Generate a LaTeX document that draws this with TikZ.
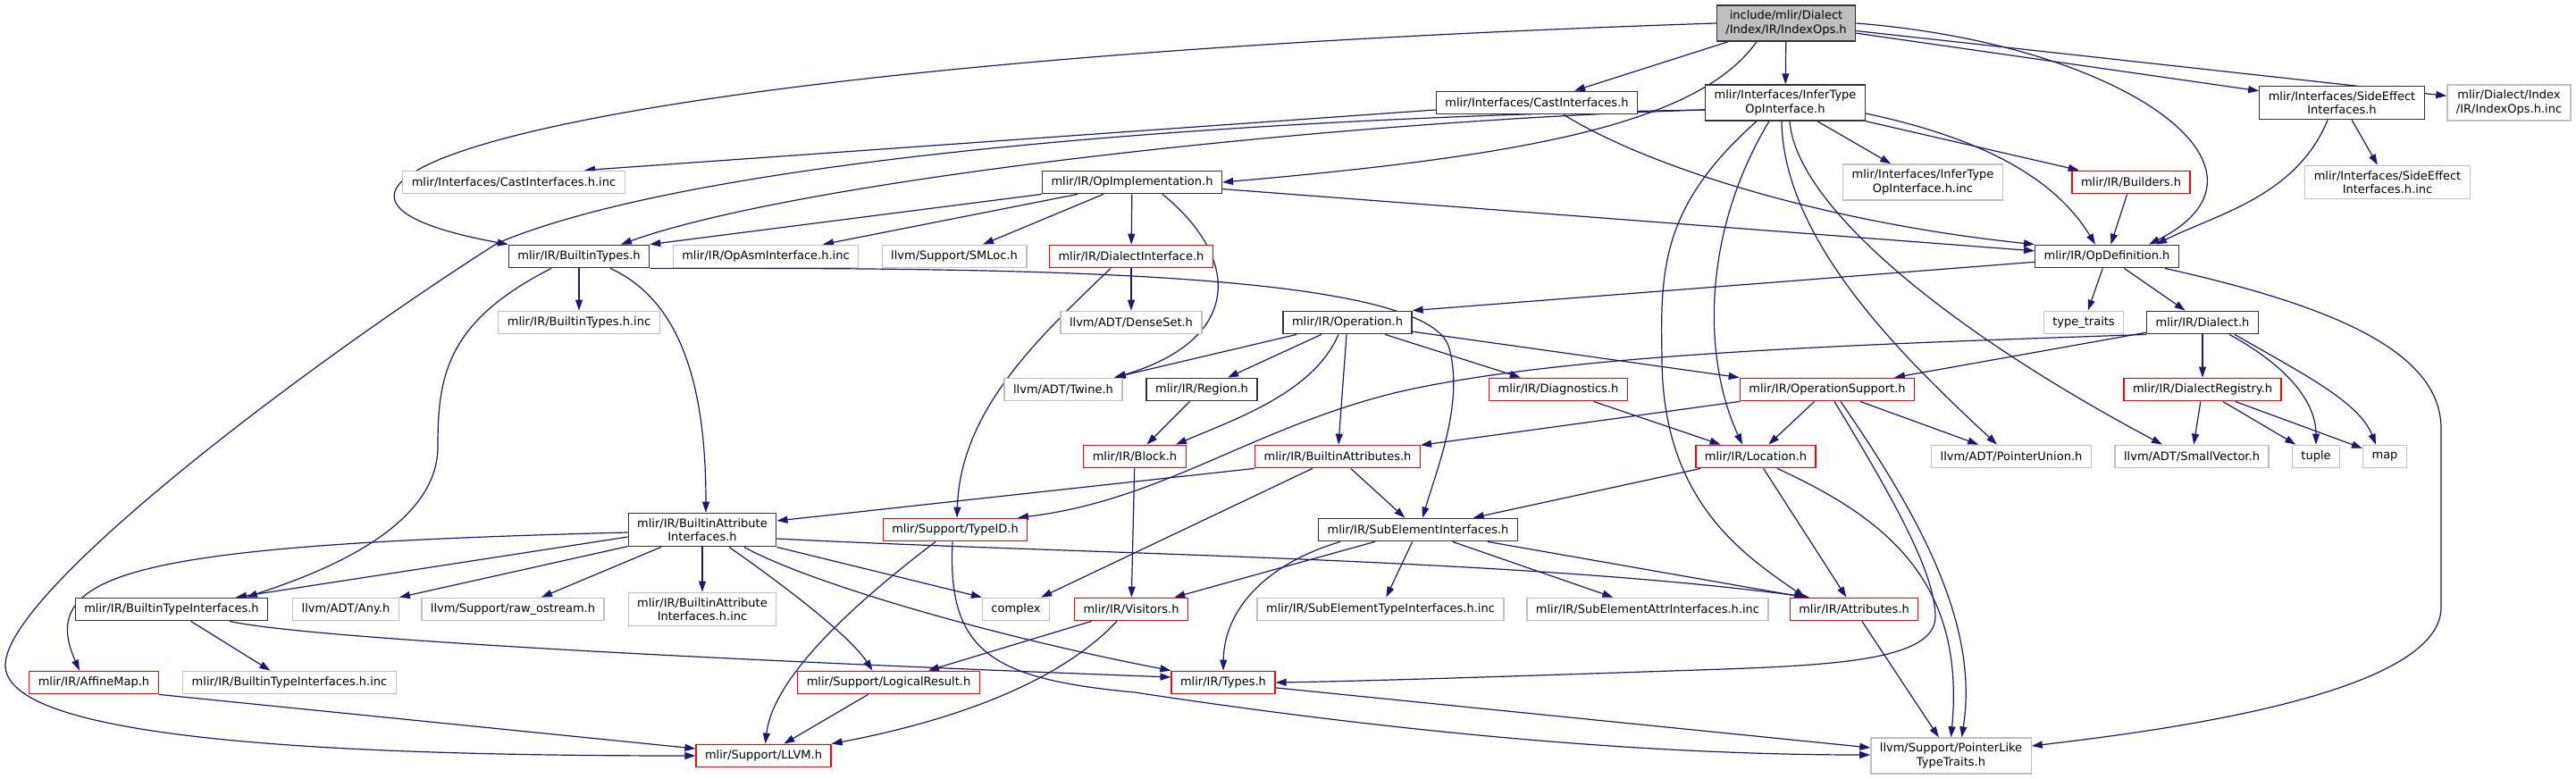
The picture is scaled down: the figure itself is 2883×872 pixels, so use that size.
\documentclass[tikz,border=0pt]{standalone}
\usepackage{fontspec}
\setmainfont{DejaVu Sans}
\usetikzlibrary{arrows.meta,backgrounds}
\definecolor{depblue}{RGB}{25,25,112}
\definecolor{boxgray}{RGB}{191,191,191}

\begin{document}
\begin{tikzpicture}[x=1pt, y=-1pt,
    every node/.style={font=\fontsize{13}{15.5}\selectfont, align=center, inner xsep=10pt, inner ysep=6pt, minimum height=25.5pt, line width=1.3pt, fill=white},
    hdr/.style={draw=black!80},
    sys/.style={draw=boxgray},
    trunc/.style={draw=red},
    root/.style={draw=black!80, fill=boxgray},
    dep/.style={->, draw=depblue, line width=1.2pt},
    >={Triangle[length=12pt, width=8pt]}]

            \useasboundingbox (0,0) rectangle (2883,872);

            %boxes
            \node (IO) at (1999,26) [root] {include/mlir/Dialect\\/Index/IR/IndexOps.h};
            \node (CI) at (1720,115) [hdr] {mlir/Interfaces/CastInterfaces.h};
            \node (ITI) at (1998,115) [hdr] {mlir/Interfaces/InferType\\OpInterface.h};
            \node (SEI) at (2621,115) [hdr] {mlir/Interfaces/SideEffect\\Interfaces.h};
            \node (IOI) at (2808,115) [sys] {mlir/Dialect/Index\\/IR/IndexOps.h.inc};
            \node (CII) at (575,204) [sys] {mlir/Interfaces/CastInterfaces.h.inc};
            \node (OImp) at (1267,204) [hdr] {mlir/IR/OpImplementation.h};
            \node (ITII) at (2152,204) [sys] {mlir/Interfaces/InferType\\OpInterface.h.inc};
            \node (BLD) at (2385,204) [trunc] {mlir/IR/Builders.h};
            \node (SEII) at (2672,204) [sys] {mlir/Interfaces/SideEffect\\Interfaces.h.inc};
            \node (BT) at (648,287) [hdr] {mlir/IR/BuiltinTypes.h};
            \node (OAI) at (857,287) [sys] {mlir/IR/OpAsmInterface.h.inc};
            \node (SML) at (1068,287) [sys] {llvm/Support/SMLoc.h};
            \node (DI) at (1266,287) [trunc] {mlir/IR/DialectInterface.h};
            \node (OD) at (2358,287) [hdr] {mlir/IR/OpDefinition.h};
            \node (BTinc) at (648,361) [sys] {mlir/IR/BuiltinTypes.h.inc};
            \node (DS) at (1266,361) [sys] {llvm/ADT/DenseSet.h};
            \node (OP) at (1508,361) [hdr] {mlir/IR/Operation.h};
            \node (TT) at (2332,361) [sys] {type\_traits};
            \node (DL) at (2465,361) [hdr] {mlir/IR/Dialect.h};
            \node (TW) at (1190,436) [sys] {llvm/ADT/Twine.h};
            \node (RG) at (1345,436) [hdr] {mlir/IR/Region.h};
            \node (DG) at (1744,436) [trunc] {mlir/IR/Diagnostics.h};
            \node (OS) at (2045,436) [trunc] {mlir/IR/OperationSupport.h};
            \node (DR) at (2465,436) [trunc] {mlir/IR/DialectRegistry.h};
            \node (BL) at (1270,511) [trunc] {mlir/IR/Block.h};
            \node (BA) at (1497,511) [trunc] {mlir/IR/BuiltinAttributes.h};
            \node (LOC) at (1965,511) [trunc] {mlir/IR/Location.h};
            \node (PU) at (2251,511) [sys] {llvm/ADT/PointerUnion.h};
            \node (SV) at (2453,511) [sys] {llvm/ADT/SmallVector.h};
            \node (TUP) at (2592,511) [sys] {tuple};
            \node (MAP) at (2669,511) [sys] {map};
            \node (BAI) at (786,593) [hdr] {mlir/IR/BuiltinAttribute\\Interfaces.h};
            \node (TID) at (1069,593) [trunc] {mlir/Support/TypeID.h};
            \node (SEL) at (1587,593) [hdr] {mlir/IR/SubElementInterfaces.h};
            \node (BTI) at (192,682) [hdr] {mlir/IR/BuiltinTypeInterfaces.h};
            \node (ANY) at (387,682) [sys] {llvm/ADT/Any.h};
            \node (RAW) at (574,682) [sys] {llvm/Support/raw\_ostream.h};
            \node (BAIinc) at (786,682) [sys] {mlir/IR/BuiltinAttribute\\Interfaces.h.inc};
            \node (CPX) at (1137,682) [sys] {complex};
            \node (VIS) at (1266,682) [trunc] {mlir/IR/Visitors.h};
            \node (SETI) at (1545,682) [sys] {mlir/IR/SubElementTypeInterfaces.h.inc};
            \node (SEAI) at (1844,682) [sys] {mlir/IR/SubElementAttrInterfaces.h.inc};
            \node (ATT) at (2075,682) [trunc] {mlir/IR/Attributes.h};
            \node (AFF) at (105,764) [trunc] {mlir/IR/AffineMap.h};
            \node (BTIinc) at (324,764) [sys] {mlir/IR/BuiltinTypeInterfaces.h.inc};
            \node (LR) at (994.5,764) [trunc] {mlir/Support/LogicalResult.h};
            \node (TY) at (1369,764) [trunc] {mlir/IR/Types.h};
            \node (LLVM) at (854.5,846) [trunc] {mlir/Support/LLVM.h};
            \node (PLT) at (2183.5,846) [sys] {llvm/Support/PointerLike\\TypeTraits.h};

            %arrows
            \begin{scope}[on background layer]
            \draw[dep] (IO) to (CI);
            \draw[dep] (IO) to (ITI);
            \draw[dep] ([xshift=-33]IO.south) .. controls (1900,140) and (1700,175) .. (OImp.east);
            \draw[dep] (IO.west) .. controls (600,70) and (220,210) .. (BT.north west);
            \draw[dep] (IO) to (SEI);
            \draw[dep] (IO) to (IOI);
            \draw[dep] (IO.east) .. controls (2380,50) and (2570,190) .. ([xshift=47]OD.north);

            \draw[dep] (CI) to ([xshift=79]CII.north);
            \draw[dep] ([xshift=30]CI.south) .. controls (1850,190) and (2050,250) .. (OD.north west);

            \draw[dep] ([yshift=-8]ITI.west) .. controls (1450,130) and (800,170) .. (557,272) .. controls (340,410) and (10,660) .. (6,743) .. controls (2,820) and (300,846) .. (LLVM.west);
            \draw[dep] ([yshift=-8]ITI.west) .. controls (1500,135) and (900,200) .. ([xshift=47]BT.north);
            \draw[dep] ([yshift=-12]ITI.east) .. controls (2220,155) and (2300,200) .. ([xshift=-13]OD.north);
            \draw[dep] (ITI) to (ITII);
            \draw[dep] (ITI) to (BLD);
            \draw[dep] ([xshift=-18]ITI.south) .. controls (1905,260) and (1905,400) .. ([xshift=-15]LOC.north);
            \draw[dep] ([xshift=-4]ITI.south) .. controls (1996,270) and (2130,400) .. ([xshift=-16]PU.north);
            \draw[dep] ([xshift=5]ITI.south) .. controls (2010,230) and (2180,370) .. ([xshift=-33]SV.north);
            \draw[dep] ([xshift=-32]ITI.south) .. controls (1860,230) and (1858,300) .. (1860,400) .. controls (1860,560) and (1950,620) .. ([xshift=-55]ATT.north);

            \draw[dep] ([xshift=-16]SEI.south) .. controls (2570,220) and (2480,240) .. ([xshift=55]OD.north);
            \draw[dep] (SEI) to (SEII);

            \draw[dep] (OImp.south west) to (BT.north east);
            \draw[dep] ([xshift=-61]OImp.south) to ([xshift=64]OAI.north);
            \draw[dep] (OImp) to (SML);
            \draw[dep] (OImp) to (DI);
            \draw[dep] ([xshift=34]OImp.south) .. controls (1390,290) and (1390,380) .. ([xshift=58]TW.north);
            \draw[dep] (OImp) to (OD);
            \draw[dep] (BLD) to (OD);

            \draw[dep] (BT) to (BTinc);
            \draw[dep] ([xshift=-31]BT.south) .. controls (500,360) and (490,420) .. (490,500) .. controls (490,600) and (330,650) .. ([xshift=84]BTI.north);
            \draw[dep] ([xshift=35]BT.south) .. controls (770,340) and (790,450) .. ([xshift=4]BAI.north);
            \draw[dep] (BT.south east) .. controls (1100,300) and (1600,300) .. (1622,390) .. controls (1638,450) and (1610,520) .. ([xshift=5]SEL.north);

            \draw[dep] (DI) to (DS);
            \draw[dep] ([xshift=-23]DI.south) .. controls (1160,380) and (1075,460) .. ([xshift=2]TID.north);

            \draw[dep] (OD) to (TT);
            \draw[dep] (OD) to (DL);
            \draw[dep] (OD) to (OP.north east);
            \draw[dep] ([xshift=65]OD.south) .. controls (2600,340) and (2732,390) .. (2732,480) -- (2732,680) .. controls (2732,780) and (2400,820) .. ([yshift=11]PLT.east);

            \draw[dep] (DL) to (OS);
            \draw[dep] (DL.south west) .. controls (2100,385) and (1750,395) .. (1560,440) .. controls (1400,480) and (1300,560) .. ([xshift=70]TID.north);
            \draw[dep] (DL) to (DR);
            \draw[dep] ([xshift=30]DL.south) .. controls (2560,410) and (2592,450) .. (TUP.north);
            \draw[dep] ([xshift=36]DL.south) .. controls (2580,420) and (2640,450) .. ([xshift=-10]MAP.north);
            \draw[dep] (DR) to (SV);
            \draw[dep] (DR) to (TUP);
            \draw[dep] (DR) to (MAP);

            \draw[dep] (OP) to (TW);
            \draw[dep] (OP) to (RG);
            \draw[dep] ([xshift=-10]OP.south) .. controls (1470,440) and (1380,470) .. ([xshift=46]BL.north);
            \draw[dep] (OP) to (BA);
            \draw[dep] (OP) to (DG);
            \draw[dep] (OP) to (OS.north west);
            \draw[dep] (RG) to (BL);
            \draw[dep] (DG) to (LOC);

            \draw[dep] (OS) to (BA);
            \draw[dep] (OS) to (LOC);
            \draw[dep] (OS) to (PU);
            \draw[dep] ([xshift=8]OS.south) .. controls (2120,560) and (2165,640) .. (2166,690) .. controls (2166,740) and (2050,745) .. (1900,750) .. controls (1750,755) and (1550,762) .. (TY.east);
            \draw[dep] ([xshift=15]OS.south) .. controls (2150,580) and (2215,700) .. ([xshift=12]PLT.north);

            \draw[dep] (BL) to (VIS);
            \draw[dep] (BA.south west) to ([yshift=10]BAI.east);
            \draw[dep] (BA) to (CPX);
            \draw[dep] (BA) to (SEL);

            \draw[dep] (LOC) to (SEL);
            \draw[dep] (LOC) to (ATT);
            \draw[dep] ([xshift=24]LOC.south) .. controls (2110,580) and (2200,650) .. (PLT.north);

            \draw[dep] ([yshift=-3]BAI.west) .. controls (150,610) and (40,640) .. ([xshift=-16]AFF.north);
            \draw[dep] ([yshift=-8]BAI.west) to ([xshift=72]BTI.north);
            \draw[dep] (BAI) to (ANY);
            \draw[dep] (BAI) to (RAW);
            \draw[dep] (BAI) to (BAIinc);
            \draw[dep] ([xshift=30]BAI.south) .. controls (870,650) and (950,710) .. ([xshift=-18]LR.north);
            \draw[dep] ([xshift=47]BAI.south) .. controls (900,650) and (1100,710) .. (TY.north west);
            \draw[dep] (BAI.south east) to (CPX.north west);
            \draw[dep] ([yshift=-10]BAI.east) .. controls (1200,620) and (1700,625) .. ([xshift=-50]ATT.north);

            \draw[dep] ([xshift=-22]TID.south) .. controls (950,680) and (865,760) .. ([xshift=2]LLVM.north);
            \draw[dep] ([xshift=-3]TID.south) .. controls (1060,730) and (1110,760) .. (1270,775) .. controls (1500,810) and (1800,845) .. ([yshift=1]PLT.west);

            \draw[dep] (SEL) to (VIS);
            \draw[dep] ([xshift=-87]SEL.south) .. controls (1420,630) and (1370,680) .. (TY.north);
            \draw[dep] (SEL) to (SETI);
            \draw[dep] (SEL) to (SEAI);
            \draw[dep] ([xshift=78]SEL.south) to ([xshift=-55]ATT.north);

            \draw[dep] (BTI) to (BTIinc);
            \draw[dep] ([xshift=65]BTI.south) .. controls (330,712) and (700,735) .. ([yshift=6]TY.west);
            \draw[dep] (VIS) to (LR);
            \draw[dep] ([xshift=-16]VIS.south) .. controls (1180,770) and (1050,810) .. (LLVM.north east);
            \draw[dep] (LR) to (LLVM);
            \draw[dep] (AFF.south east) to ([yshift=8]LLVM.west);
            \draw[dep] (TY) to (PLT);
            \draw[dep] (ATT) to (PLT);
            \end{scope}

    \end{tikzpicture}
\end{document}
